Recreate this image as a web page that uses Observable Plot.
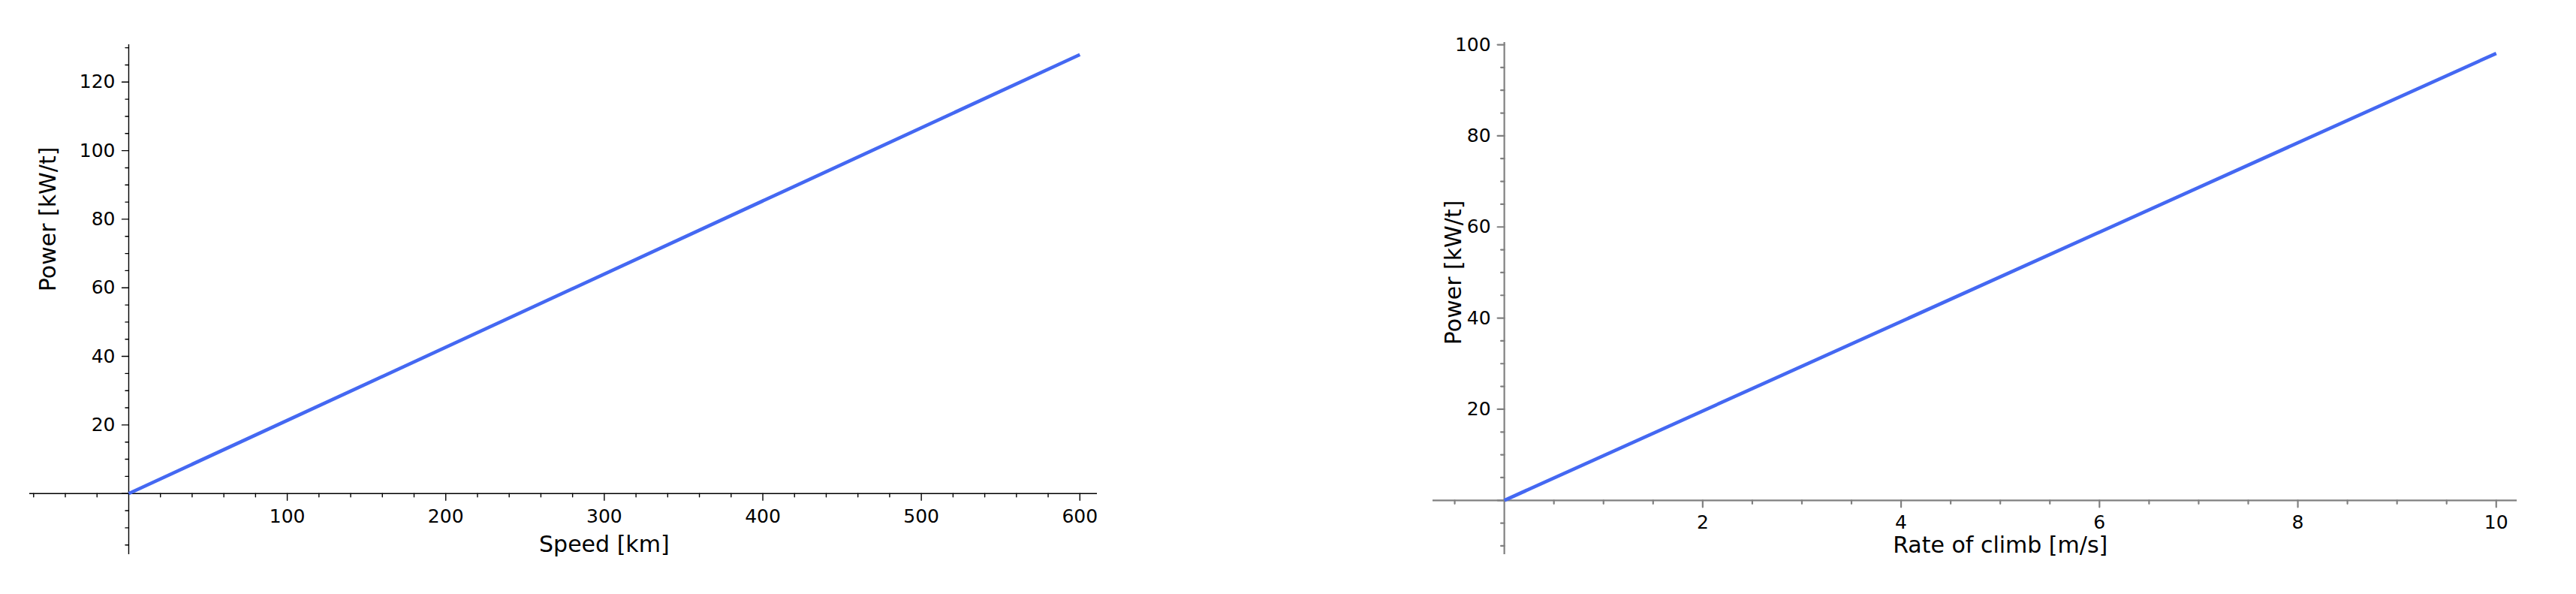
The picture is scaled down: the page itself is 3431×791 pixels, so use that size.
<!DOCTYPE html>
<html>
<head>
<meta charset="utf-8">
<script src="https://cdn.jsdelivr.net/npm/d3@7"></script>
<script src="https://cdn.jsdelivr.net/npm/@observablehq/plot@0.6"></script>
<style>
  html, body { margin: 0; padding: 0; background: #fff; }
  #wrap { position: relative; width: 3431px; height: 791px; overflow: hidden; background: #fff; }
  #left { position: absolute; left: 0; top: 0; }
  #right { position: absolute; left: 1715px; top: 0; }
</style>
</head>
<body>
<div id="wrap"><div id="left"></div><div id="right"></div></div>
<script>
// ---- data ----
const speed = [0, 600];            // Speed [km]
const powerSpeed = [0, 128];       // Power [kW/t]
const climb = [0, 10];             // Rate of climb [m/s]
const powerClimb = [0, 98.1];      // Power [kW/t]

// ---- tick values ----
const leftXMajor = [100, 200, 300, 400, 500, 600];
const leftXMinor = d3.range(-60, 611, 20).filter(v => v % 100 !== 0);
const leftYMajor = [0, 20, 40, 60, 80, 100, 120];
const leftYMinor = d3.range(-15, 131, 5).filter(v => v % 20 !== 0);
const rightXMajor = [2, 4, 6, 8, 10];
const rightXMinor = d3.range(-0.5, 10.01, 0.5).filter(v => Math.abs(v % 2) > 1e-9 && v !== 0);
const rightYMajor = [0, 20, 40, 60, 80, 100];
const rightYMinor = d3.range(-10, 101, 5).filter(v => v % 20 !== 0);

const xLabelLeft = "Speed [km]";
const xLabelRight = "Rate of climb [m/s]";
const yLabel = "Power [kW/t]";

const lineColor = "#4468f2";
const font = "DejaVu Sans";
const tickShape = {draw(context, l) { context.moveTo(0, 0); context.lineTo(0, -l); }};

function chart(cfg) {
  const zero = () => 0;
  const id = d => d;
  return Plot.plot({
    width: cfg.width, height: 791,
    marginLeft: cfg.ml, marginRight: cfg.mr, marginTop: cfg.mt, marginBottom: cfg.mb,
    x: {domain: cfg.xd, axis: null},
    y: {domain: cfg.yd, axis: null},
    style: {fontFamily: font, background: "white", overflow: "visible", color: "#000"},
    marks: [
      Plot.ruleY([0], {stroke: cfg.axisColor, strokeWidth: cfg.axisWidth}),
      Plot.ruleX([0], {stroke: cfg.axisColor, strokeWidth: cfg.axisWidth}),
      Plot.vector(cfg.xMajor, {x: id, y: zero, length: 9, rotate: 180, anchor: "start", shape: tickShape, stroke: cfg.axisColor, strokeWidth: cfg.axisWidth, fill: "none"}),
      Plot.vector(cfg.xMinor, {x: id, y: zero, length: 4.5, rotate: 180, anchor: "start", shape: tickShape, stroke: cfg.axisColor, strokeWidth: cfg.axisWidth, fill: "none"}),
      Plot.vector(cfg.yMajor, {x: zero, y: id, length: 9, rotate: 270, anchor: "start", shape: tickShape, stroke: cfg.axisColor, strokeWidth: cfg.axisWidth, fill: "none"}),
      Plot.vector(cfg.yMinor, {x: zero, y: id, length: 4.5, rotate: 270, anchor: "start", shape: tickShape, stroke: cfg.axisColor, strokeWidth: cfg.axisWidth, fill: "none"}),
      Plot.text(cfg.xMajor, {x: id, y: zero, text: d => String(d), dy: cfg.xTickDy, fontSize: 25, fill: "#000", lineAnchor: "middle"}),
      Plot.text(cfg.yMajor.filter(v => v !== 0), {x: zero, y: id, text: d => String(d), dx: -18, textAnchor: "end", fontSize: 25, fill: "#000", lineAnchor: "middle"}),
      Plot.line(cfg.xs.map((v, i) => ({x: v, y: cfg.ys[i]})), {x: "x", y: "y", stroke: lineColor, strokeWidth: 4.6, strokeLinecap: "butt"}),
      Plot.text([cfg.xLabel], {x: () => d3.max(cfg.xs) / 2, y: zero, dy: cfg.xLabelDy, text: id, fontSize: 30, fill: "#000", lineAnchor: "middle"}),
      Plot.text([yLabel], {x: zero, y: () => cfg.yLabelAt, dx: cfg.yLabelDx, rotate: -90, text: id, fontSize: 30, fill: "#000", lineAnchor: "middle"})
    ]
  });
}

document.getElementById("left").append(chart({
  width: 1715, ml: 39, mr: 254, mt: 59, mb: 53,
  xd: [-62.5, 611], yd: [-17.8, 130.9],
  axisColor: "#000", axisWidth: 1.4,
  xMajor: leftXMajor, xMinor: leftXMinor, yMajor: leftYMajor, yMinor: leftYMinor,
  xs: speed, ys: powerSpeed,
  xLabel: xLabelLeft, xTickDy: 31, xLabelDy: 68,
  yLabelAt: 80, yLabelDx: -107
}));

document.getElementById("right").append(chart({
  width: 1716, ml: 193, mr: 79, mt: 56, mb: 53,
  xd: [-0.72, 10.21], yd: [-11.9, 100.5],
  axisColor: "#808080", axisWidth: 2.2,
  xMajor: rightXMajor, xMinor: rightXMinor, yMajor: rightYMajor, yMinor: rightYMinor,
  xs: climb, ys: powerClimb,
  xLabel: xLabelRight, xTickDy: 30, xLabelDy: 60,
  yLabelAt: 50, yLabelDx: -67
}));
</script>
</body>
</html>
